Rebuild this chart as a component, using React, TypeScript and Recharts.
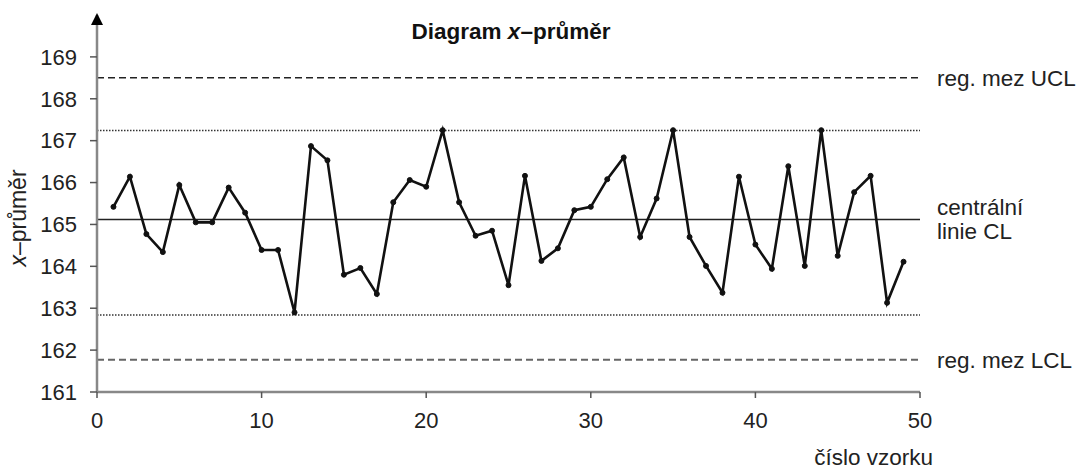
import React from 'react';
import {
  LineChart,
  Line,
  XAxis,
  YAxis,
  ReferenceLine,
  ReferenceDot,
} from 'recharts';

// sample numbers 1..49
const samples = Array.from({ length: 49 }, (_, i) => i + 1);

// x-bar values
const means = [
  165.42, 166.14, 164.77, 164.34, 165.94, 165.05, 165.05, 165.88, 165.28, 164.39,
  164.39, 162.9, 166.87, 166.53, 163.8, 163.96, 163.34, 165.53, 166.06, 165.9,
  167.25, 165.53, 164.73, 164.85, 163.55, 166.16, 164.13, 164.43, 165.34, 165.42,
  166.08, 166.6, 164.7, 165.62, 167.25, 164.7, 164.01, 163.37, 166.14, 164.52,
  163.94, 166.39, 164.01, 167.25, 164.25, 165.77, 166.16, 163.13, 164.11,
];

const UCL = 168.5;
const UWL = 167.24;
const CL = 165.12;
const LWL = 162.84;
const LCL = 161.77;

const xTicks = [0, 10, 20, 30, 40, 50];
const yTicks = [161, 162, 163, 164, 165, 166, 167, 168, 169];

const data = samples.map((s, i) => ({ sample: s, mean: means[i] }));

const FONT = '"Liberation Sans", Arial, sans-serif';

const rightLabel = (lines: string[]) => (props: any) => {
  const vb = props.viewBox || {};
  const x = vb.x + vb.width + 17;
  const y = vb.y;
  const lh = 24;
  const start = y - ((lines.length - 1) * lh) / 2;
  return (
    <text x={x} y={start} fill="#222" fontSize={22.5} fontFamily={FONT} dominantBaseline="central">
      {lines.map((l, i) => (
        <tspan key={i} x={x} y={start + i * lh}>
          {l}
        </tspan>
      ))}
    </text>
  );
};

const Arrow = (props: any) => {
  const { cx, cy } = props;
  return <polygon points={`${cx - 6},${cy + 10} ${cx + 6},${cy + 10} ${cx},${cy - 2}`} fill="#000" />;
};

export default function App() {
  return (
    <div style={{ position: 'absolute', left: 0, top: 0, width: 1078, height: 468, background: '#fff', fontFamily: FONT }}>
      <div
        style={{
          position: 'absolute',
          left: 311,
          width: 400,
          top: 19,
          textAlign: 'center',
          fontWeight: 'bold',
          fontSize: 22.5,
          color: '#111',
        }}
      >
        Diagram <i>x</i>–průměr
      </div>
      <div
        style={{
          position: 'absolute',
          left: 18,
          top: 218,
          transform: 'translate(-50%, -50%) rotate(-90deg)',
          fontSize: 23,
          color: '#222',
          whiteSpace: 'nowrap',
        }}
      >
        <i>x</i>–průměr
      </div>
      <div style={{ position: 'absolute', right: 145, top: 445, fontSize: 22.5, color: '#222' }}>číslo vzorku</div>
      <LineChart width={1078} height={468} data={data} margin={{ top: 15, right: 158, left: 37, bottom: 36 }}>
        <XAxis
          dataKey="sample"
          type="number"
          domain={[0, 50]}
          ticks={xTicks}
          interval={0}
          height={40}
          axisLine={{ stroke: '#888', strokeWidth: 2.5 }}
          tickLine={{ stroke: '#555', strokeWidth: 1.5 }}
          tickSize={6}
          tickMargin={14}
          tick={{ fill: '#222', fontSize: 22, fontFamily: FONT }}
        />
        <YAxis
          type="number"
          domain={[161, 170]}
          ticks={yTicks}
          interval={0}
          width={60}
          axisLine={{ stroke: '#888', strokeWidth: 2.5 }}
          tickLine={{ stroke: '#555', strokeWidth: 1.5 }}
          tickSize={7}
          tickMargin={13}
          tick={{ fill: '#222', fontSize: 22, fontFamily: FONT }}
        />
        <ReferenceLine y={UCL} stroke="#222" strokeWidth={1.5} strokeDasharray="7 4" label={rightLabel(['reg. mez UCL'])} />
        <ReferenceLine y={UWL} stroke="#333" strokeWidth={1.5} strokeDasharray="1.5 1.5" />
        <ReferenceLine y={CL} stroke="#222" strokeWidth={1.5} label={rightLabel(['centrální', 'linie CL'])} />
        <ReferenceLine y={LWL} stroke="#333" strokeWidth={1.5} strokeDasharray="1.5 1.5" />
        <ReferenceLine y={LCL} stroke="#666" strokeWidth={2} strokeDasharray="7 4" label={rightLabel(['reg. mez LCL'])} />
        <ReferenceDot x={0} y={170} r={6} ifOverflow="visible" shape={Arrow} />
        <Line
          type="linear"
          dataKey="mean"
          stroke="#111"
          strokeWidth={2.6}
          dot={{ r: 2.5, fill: '#111', stroke: '#111', strokeWidth: 1 }}
          isAnimationActive={false}
        />
      </LineChart>
    </div>
  );
}
